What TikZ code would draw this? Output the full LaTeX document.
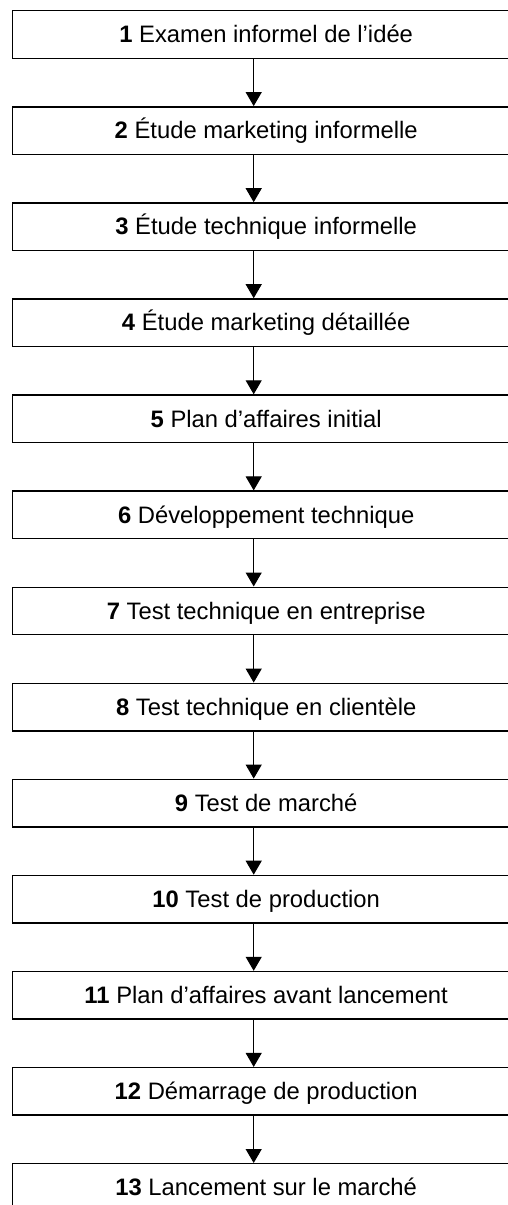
\documentclass[tikz,border=0pt]{standalone}
\usepackage{fontspec}
\setmainfont{Liberation Sans}
\usetikzlibrary{arrows.meta}
\begin{document}
\begin{tikzpicture}[x=1pt,y=1pt,
  stepbox/.style={draw, line width=1.4pt, minimum width=507pt, minimum height=47.5pt,
    inner sep=0pt, anchor=north west, font=\fontsize{23.8}{28}\selectfont,
    text height=16.5pt, text depth=0pt},
  flow/.style={line width=1.1pt, -{Triangle[width=16pt,length=14pt]}}]
\useasboundingbox (0,0) rectangle (507,-1205);
\node[stepbox] (b1)  at (12,-10)     {\textbf{1} Examen informel de l’idée};
\node[stepbox] (b2)  at (12,-106.1)  {\textbf{2} Étude marketing informelle};
\node[stepbox] (b3)  at (12,-202.2)  {\textbf{3} Étude technique informelle};
\node[stepbox] (b4)  at (12,-298.2)  {\textbf{4} Étude marketing détaillée};
\node[stepbox] (b5)  at (12,-394.3)  {\textbf{5} Plan d’affaires initial};
\node[stepbox] (b6)  at (12,-490.4)  {\textbf{6} Développement technique};
\node[stepbox] (b7)  at (12,-586.5)  {\textbf{7} Test technique en entreprise};
\node[stepbox] (b8)  at (12,-682.6)  {\textbf{8} Test technique en clientèle};
\node[stepbox] (b9)  at (12,-778.6)  {\textbf{9} Test de marché};
\node[stepbox] (b10) at (12,-874.7)  {\textbf{10} Test de production};
\node[stepbox] (b11) at (12,-970.8)  {\textbf{11} Plan d’affaires avant lancement};
\node[stepbox] (b12) at (12,-1066.9) {\textbf{12} Démarrage de production};
\node[stepbox] (b13) at (12,-1163)   {\textbf{13} Lancement sur le marché};
\foreach \a/\b in {1/2,2/3,3/4,4/5,5/6,6/7,7/8,8/9,9/10,10/11,11/12,12/13}
  \draw[flow] ([xshift=-12.5pt]b\a.south) -- ([xshift=-12.5pt]b\b.north);
\end{tikzpicture}
\end{document}
